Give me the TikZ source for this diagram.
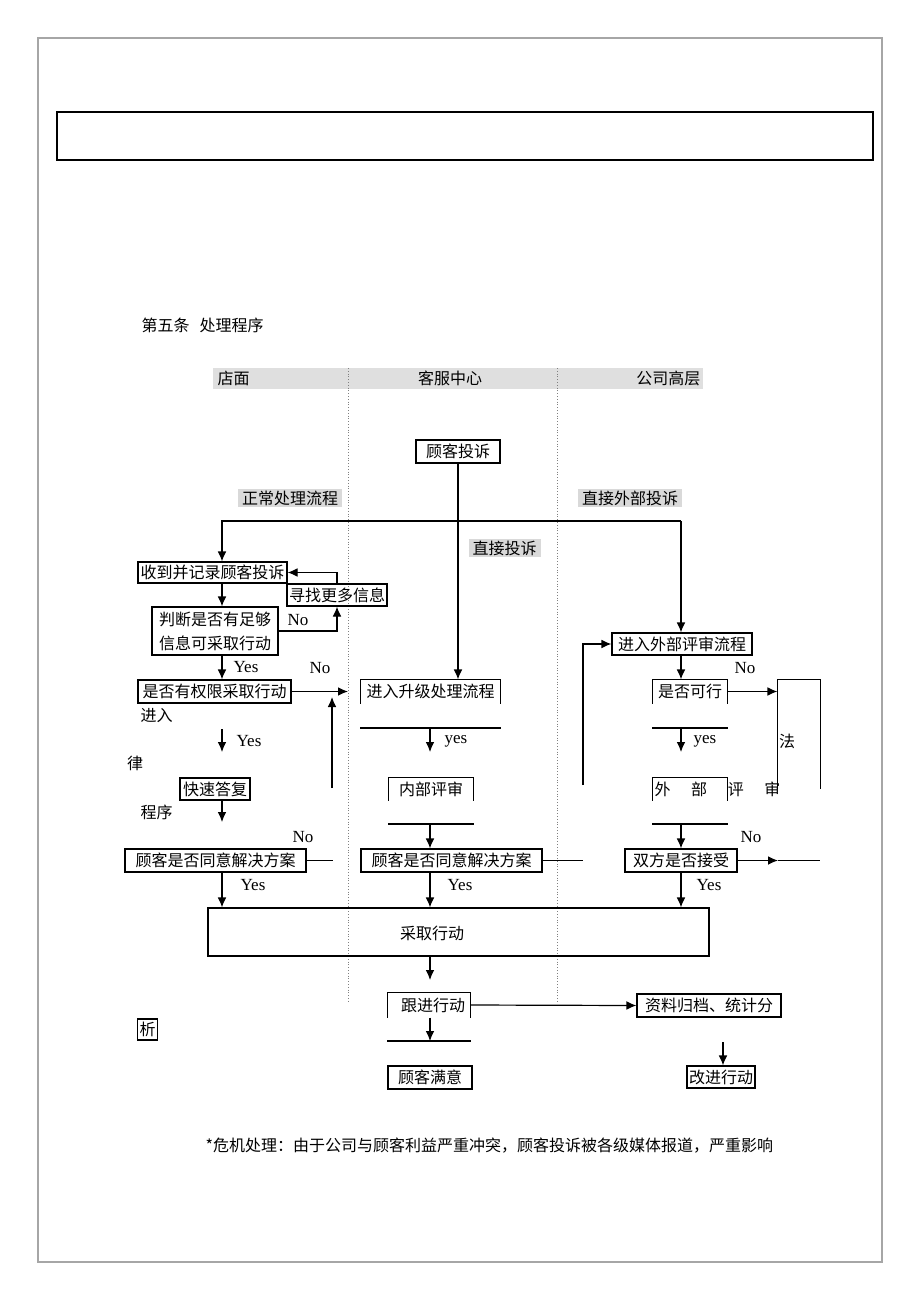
\documentclass[tikz,border=0pt]{standalone}
\usepackage{fontspec}
\setmainfont{Liberation Serif}
\newfontfamily\cjk{Noto Sans CJK SC}
\usetikzlibrary{arrows.meta,positioning,calc}

\begin{document}
\begin{tikzpicture}[
  x=0.5pt, y=-0.5pt,
  line width=0.6pt,
  cn/.style={font=\cjk\fontsize{8}{12}\selectfont, inner sep=1pt},
  box/.style={cn, draw, align=center},
  openbox/.style={cn},
  tag/.style={cn, fill=gray!30, inner xsep=2pt},
  lab/.style={font=\fontsize{8.5}{10}\selectfont, inner sep=1pt},
  arrow/.style={-{Latex[length=5pt,width=4.4pt]}},
  lane/.style={densely dotted, gray, line width=0.4pt}
]
\useasboundingbox (0,0) rectangle (920,1302);
\draw[gray!70, line width=1.2pt] (38,38) rectangle (882,1262);
\draw (57,112) rectangle (873,160);

\node[cn, anchor=west] (title) at (139,325) {第五条\hspace{5pt}处理程序};

\fill[gray!25] (213,368) rectangle (703,389);
\node[cn, anchor=west] (shop) at (215,378.5) {店面};
\node[cn] (csc) at (450,378.5) {客服中心};
\node[cn, anchor=east] (mgmt) at (703,378.5) {公司高层};
\draw[lane] (348,368) -- (348,1003);
\draw[lane] (557,368) -- (557,1003);

\coordinate (colL) at (222,0);
\coordinate (colM) at (430,0);
\coordinate (colR) at (681,0);

\node[box, minimum width=42pt, minimum height=11.5pt] (cmp) at (458,451.5) {顾客投诉};
\node[tag] (normal) at (290,498) {正常处理流程};
\node[tag] (extdirect) at (630,498) {直接外部投诉};
\node[tag] (direct) at (504.5,548) {直接投诉};
\coordinate (topL) at (222,521);
\coordinate (topR) at (681,521);

% store column
\node[box, minimum width=74.5pt, minimum height=10.5pt] (recv) at (212.5,572.5) {收到并记录顾客投诉};
\node[box, minimum width=50pt, minimum height=11pt] (more) at (337,595) {寻找更多信息};
\node[box, minimum width=63pt, minimum height=24pt] (judge) at (215,631) {判断是否有足够\\信息可采取行动};
\node[box, minimum width=76.5pt, minimum height=11.5pt] (auth) at (214.5,691.5) {是否有权限采取行动};
\node[box, minimum width=35pt, minimum height=11pt] (quick) at (215,789) {快速答复};
\node[box, minimum width=90.5pt, minimum height=11.5pt] (agreeL) at (215.5,860.5) {顾客是否同意解决方案};
\node[cn, anchor=west] (fragA) at (138,716) {进入};
\node[cn] (fragB) at (135,763) {律};
\node[cn, anchor=west] (fragC) at (138,812) {程序};
\node[lab] (noA) at (298,620) {No};
\node[lab] (yesA) at (246,667) {Yes};
\node[lab] (noB) at (320,668) {No};
\node[lab] (yesB) at (249,741) {Yes};
\node[lab] (noC) at (303,837) {No};
\node[lab] (yesC) at (253,885) {Yes};
\coordinate (authR) at (348,691.5);
\coordinate (backB) at (332,788);
\coordinate (backT) at (332,697);
\coordinate (yA) at (222,729);
\coordinate (yB) at (222,752);
\coordinate (quickgo) at (222,822);
\coordinate (agreeLR) at (333,860.5);

% service centre column
\node[openbox, minimum width=69.5pt, minimum height=11.5pt] (upgrade) at (430.5,691.5) {进入升级处理流程};
\node[openbox, minimum width=42pt, minimum height=11pt] (internal) at (431,789) {内部评审};
\node[box, minimum width=90.5pt, minimum height=11.5pt] (agreeM) at (451.5,860.5) {顾客是否同意解决方案};
\node[lab] (yesD) at (456,741) {yes};
\node[lab] (yesE) at (460,885) {Yes};
\coordinate (upcut) at (430,728);
\coordinate (upgo) at (430,752);
\coordinate (incut) at (430,824);
\coordinate (agreeMR) at (583,860.5);

% management column
\node[box, minimum width=70pt, minimum height=11pt] (ext) at (682,644) {进入外部评审流程};
\node[openbox, minimum width=37pt, minimum height=11.5pt] (feasible) at (690,691.5) {是否可行};
\node[openbox, minimum width=21pt, minimum height=54pt] (law) at (799,734) {};
\node[openbox, minimum width=37pt, minimum height=11pt] (extrev) at (690,789) {};
\node[cn, anchor=west] (extrevtxt) at (652,789) {外\hspace{10.3pt}部\hspace{10.3pt}评\hspace{10.3pt}审};
\node[box, minimum width=56pt, minimum height=11.5pt] (both) at (681,860.5) {双方是否接受};
\node[cn] (fragD) at (787,741) {法};
\node[lab] (noD) at (745,668) {No};
\node[lab] (yesF) at (705,741) {yes};
\node[lab] (noE) at (751,837) {No};
\node[lab] (yesG) at (709,885) {Yes};
\coordinate (loopB) at (583,785);
\coordinate (fecut) at (681,728);
\coordinate (fego) at (681,752);
\coordinate (excut) at (681,824);
\coordinate (bothA) at (778,860.5);
\coordinate (bothB) at (820,860.5);

% action and follow-up
\node[box, minimum width=250.5pt, minimum height=24pt] (act) at (458.5,932) {};
\node[cn] (acttxt) at (432,933) {采取行动};
\node[openbox, minimum width=41pt, minimum height=12pt] (follow) at (429,1005) {\hspace{4pt}跟进行动};
\node[box, minimum width=72pt, minimum height=11.5pt] (archive) at (709,1005.5) {资料归档、统计分};
\node[box, minimum width=42pt, minimum height=11.5pt] (satisfied) at (430,1077.5) {顾客满意};
\node[box, minimum width=34pt, minimum height=11pt] (improve) at (721,1077) {改进行动};
\node[box, minimum width=8.5pt, minimum height=10.5pt] (xi) at (147.5,1029.5) {析};
\coordinate (actgo) at (430,980);
\coordinate (focut) at (430,1041);
\coordinate (arcgo) at (723,1042);

\node[cn, anchor=west] (crisis) at (203,1146) {*危机处理：由于公司与顾客利益严重冲突，顾客投诉被各级媒体报道，严重影响};

% connectors
\draw[arrow] (cmp.south) -- (cmp.south |- upgrade.north);
\draw[arrow] (topR) -| (recv.north -| colL);
\draw[arrow] (topR) -- (ext.north -| colR);

\draw[arrow] (recv.south -| colL) -- (judge.north -| colL);
\draw[arrow] (more.north) |- (recv.east);
\draw[arrow] (judge.east) -| (more.south);
\draw[arrow] (judge.south -| colL) -- (auth.north -| colL);
\draw[arrow] (auth.east) -- (authR);
\draw[arrow] (backB) -- (backT);
\draw[arrow] (yA) -- (yB);
\draw[arrow] (quick.south -| colL) -- (quickgo);
\draw (agreeL.east) -- (agreeLR);
\draw[arrow] (agreeL.south -| colL) -- (act.north -| colL);

\draw (upgrade.south west) |- (upgrade.north east) -- (upgrade.south east);
\draw (upgrade.west |- upcut) -- (upgrade.east |- upcut);
\draw[arrow] (upcut) -- (upgo);
\draw (internal.south west) |- (internal.north east) -- (internal.south east);
\draw (internal.west |- incut) -- (internal.east |- incut);
\draw[arrow] (incut) -- (agreeM.north -| colM);
\draw (agreeM.east) -- (agreeMR);
\draw[arrow] (agreeM.south -| colM) -- (act.north -| colM);

\draw[arrow] (loopB) |- (ext.west);
\draw[arrow] (ext.south -| colR) -- (feasible.north -| colR);
\draw (feasible.south west) |- (feasible.north east) -- (feasible.south east);
\draw[arrow] (feasible.east) -- (law.west |- feasible.east);
\draw (law.south west) |- (law.north east) -- (law.south east);
\draw (feasible.west |- fecut) -- (feasible.east |- fecut);
\draw[arrow] (fecut) -- (fego);
\draw (extrev.south west) |- (extrev.north east) -- (extrev.south east);
\draw (extrev.west |- excut) -- (extrev.east |- excut);
\draw[arrow] (excut) -- (both.north -| colR);
\draw[arrow] (both.east) -- (bothA);
\draw (bothA) -- (bothB);
\draw[arrow] (both.south -| colR) -- (act.north -| colR);

\draw[arrow] (act.south -| colM) -- (actgo);
\draw (follow.south west) |- (follow.north east) -- (follow.south east);
\draw (follow.west |- focut) -- (follow.east |- focut);
\draw[arrow] (follow.south -| colM) -- (focut);
\draw[arrow] (follow.east) -- (archive.west);
\draw[arrow] (arcgo) -- (improve.north -| arcgo);
\end{tikzpicture}
\end{document}
